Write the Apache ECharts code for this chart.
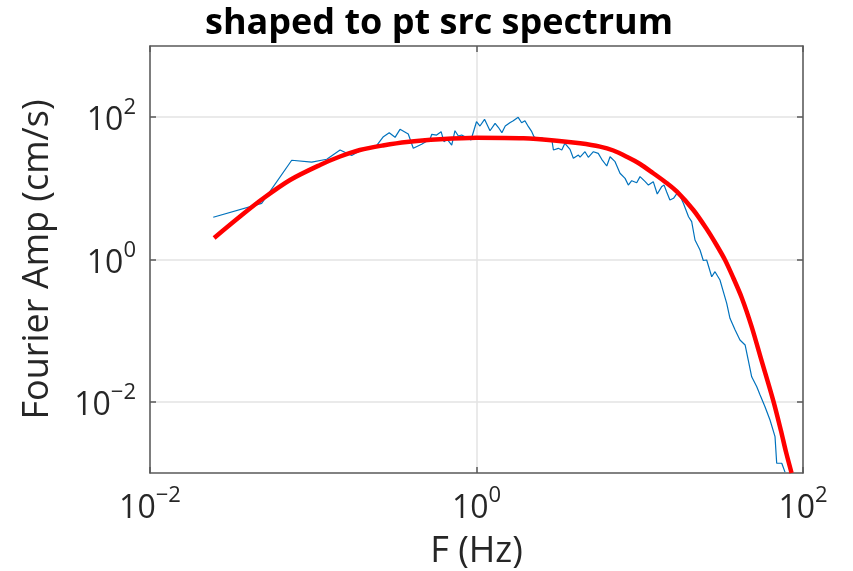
<!DOCTYPE html>
<html>
<head>
<meta charset="utf-8">
<script src="https://cdn.jsdelivr.net/npm/echarts@6/dist/echarts.min.js"></script>
<style>html,body{margin:0;padding:0;background:#fff}#c{width:853px;height:571px}</style>
</head>
<body>
<div id="c"></div>
<script>
const titleText = 'shaped to pt src spectrum';
const xName = 'F (Hz)';
const yName = 'Fourier Amp (cm/s)';
const xTicks = [0.01, 1, 100];
const yTicks = [0.01, 1, 100];

// measured spectrum (blue)
const blueFreq = [0.0244,0.0483,0.0738,0.0979,0.121,0.146,0.172,0.193,0.239,0.269,0.292,0.317,0.340,0.382,0.410,0.461,0.519,0.532,0.570,0.607,0.632,0.662,0.705,0.738,0.774,0.811,0.851,0.925,1.00,1.05,1.12,1.21,1.30,1.36,1.43,1.50,1.60,1.68,1.80,1.89,1.98,2.08,2.18,2.25,2.39,2.51,2.69,2.89,2.96,3.17,3.33,3.48,3.74,3.92,4.21,4.31,4.62,4.84,5.20,5.57,5.85,6.28,6.58,7.06,7.57,8.13,8.51,8.93,9.58,10.04,10.8,11.3,12.1,12.8,13.6,14.1,14.6,15.3,16.1,17.2,18.5,19.9,20.8,21.8,23.4,24.5,25.7,27.6,28.9,31.0,32.5,34.1,35.7,38.4,41.1,44.2,46.2,48.5,52.1,54.6,58.5,62.8,67.4,69.0,74.1,77.6];
const blueAmp = [3.92,6.16,24.8,23.4,25.6,34.6,28.9,33.8,37.2,53.1,60.5,52.1,67.5,58.0,36.5,41.6,48.9,57.4,56.1,62.5,45.2,48.9,40.6,64.5,54.3,56.1,53.1,47.8,86.3,75.1,93.3,64.5,82.0,72.1,60.5,75.1,83.6,89.2,99.5,83.6,89.2,73.5,62.5,53.1,48.9,51.4,47.8,48.9,34.6,36.5,34.6,42.9,35.3,26.4,29.4,27.5,32.7,27.3,32.7,31.0,25.6,20.6,27.8,23.7,16.3,13.8,11.1,12.8,12.0,14.6,12.4,11.1,12.4,8.32,10.5,11.1,8.97,6.86,7.24,8.97,6.16,3.99,3.40,1.88,1.36,0.968,0.984,0.573,0.674,0.515,0.353,0.242,0.149,0.102,0.0739,0.0629,0.0387,0.0225,0.0163,0.0125,0.00855,0.00556,0.00324,0.00137,0.00137,0.00103];

// point-source model spectrum (red)
const redFreq = [0.0247,0.0356,0.0483,0.0721,0.110,0.146,0.193,0.267,0.374,0.598,1.00,1.94,3.10,4.31,5.71,6.89,8.32,10.04,12.1,14.6,16.9,21.3,25.7,29.3,33.3,37.2,42.2,48.5,55.8,65.8,73.1,78.7,85.1];
const redAmp = [2.01,4.02,6.97,13.1,21.3,28.0,34.6,40.0,44.8,48.9,51.4,50.5,46.7,42.9,38.5,34.0,27.8,22.0,16.3,11.9,8.97,4.96,2.68,1.65,0.984,0.568,0.288,0.113,0.0375,0.0103,0.00402,0.00197,0.00100];

const FONT = 'Open Sans';
const AX = '#595959';
const fmtPow = v => {
  const e = Math.round(Math.log10(v));
  return '{b|10}{s|' + (e < 0 ? '\u2212' + (-e) : e) + '}';
};
const rich = {
  b: {fontSize: 32, fontFamily: FONT, color: '#262626', lineHeight: 40, verticalAlign: 'bottom'},
  s: {fontSize: 22, fontFamily: FONT, color: '#262626', lineHeight: 40, verticalAlign: 'top'}
};

const blueData = blueFreq.map((f, i) => [f, blueAmp[i]]);
const redData = redFreq.map((f, i) => [f, redAmp[i]]);

const chart = echarts.init(document.getElementById('c'), null, {renderer: 'canvas'});
chart.setOption({
  animation: false,
  backgroundColor: '#fff',
  title: {
    text: titleText, left: 200, top: 1,
    textStyle: {fontFamily: FONT, fontWeight: 'bold', fontSize: 36, color: '#000'}
  },
  grid: {left: 150, right: 50, top: 46, bottom: 98, outerBoundsMode: 'none', containLabel: false},
  xAxis: [{
    type: 'log', logBase: 10, min: 0.01, max: 100,
    name: xName, nameLocation: 'middle', nameGap: 61,
    nameTextStyle: {fontFamily: FONT, fontSize: 36, color: '#262626'},
    axisLine: {show: true, onZero: false, lineStyle: {color: AX, width: 1.5}},
    axisTick: {show: true, inside: true, length: 6, customValues: xTicks, lineStyle: {color: AX, width: 1.5}},
    axisLabel: {customValues: xTicks, formatter: fmtPow, rich: rich, margin: 12},
    splitLine: {show: true, lineStyle: {color: '#e3e3e3', width: 1.5}},
    minorTick: {show: false}, minorSplitLine: {show: false}
  }, {
    type: 'log', logBase: 10, min: 0.01, max: 100, position: 'top',
    axisLine: {show: true, onZero: false, lineStyle: {color: AX, width: 1.5}},
    axisTick: {show: true, inside: true, length: 6, customValues: xTicks, lineStyle: {color: AX, width: 1.5}},
    axisLabel: {show: false}, splitLine: {show: false}
  }],
  yAxis: [{
    type: 'log', logBase: 10, min: 0.001, max: 1000,
    name: yName, nameLocation: 'middle', nameGap: 94, nameRotate: 90,
    nameTextStyle: {fontFamily: FONT, fontSize: 36, color: '#262626'},
    axisLine: {show: true, onZero: false, lineStyle: {color: AX, width: 1.5}},
    axisTick: {show: true, inside: true, length: 6, customValues: yTicks, lineStyle: {color: AX, width: 1.5}},
    axisLabel: {customValues: yTicks, formatter: fmtPow, rich: rich, margin: 14},
    splitLine: {show: true, lineStyle: {color: '#e3e3e3', width: 1.5}},
    minorTick: {show: false}, minorSplitLine: {show: false}
  }, {
    type: 'log', logBase: 10, min: 0.001, max: 1000, position: 'right',
    axisLine: {show: true, onZero: false, lineStyle: {color: AX, width: 1.5}},
    axisTick: {show: true, inside: true, length: 6, customValues: yTicks, lineStyle: {color: AX, width: 1.5}},
    axisLabel: {show: false}, splitLine: {show: false}
  }],
  series: [{
    type: 'line', data: blueData, showSymbol: false, symbol: 'none', clip: true,
    lineStyle: {color: '#0072BD', width: 1.2}, z: 3
  }, {
    type: 'line', data: redData, showSymbol: false, symbol: 'none', smooth: 0.3, clip: true,
    lineStyle: {color: '#FF0000', width: 4.5}, z: 4
  }]
});
</script>
</body>
</html>
